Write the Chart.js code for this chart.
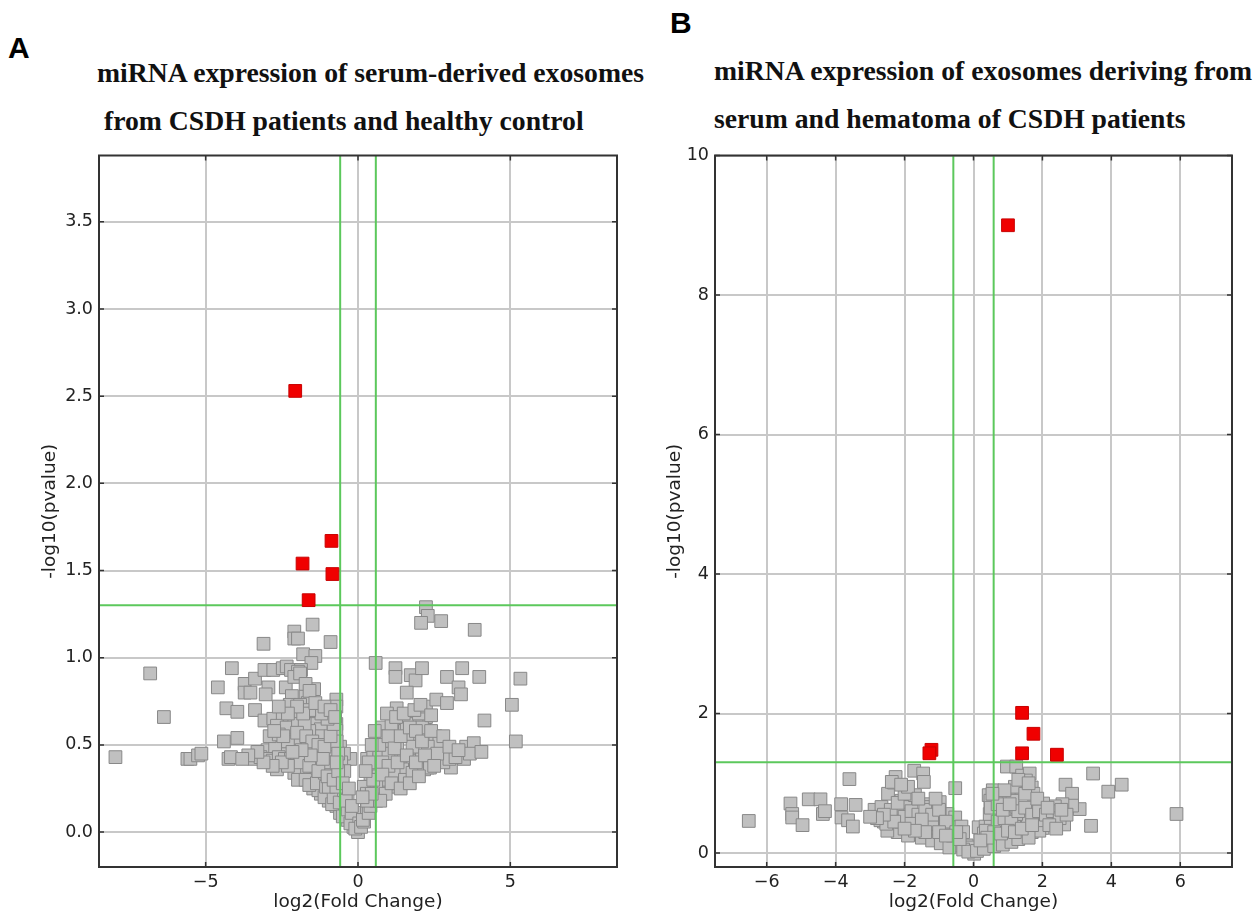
<!DOCTYPE html>
<html>
<head>
<meta charset="utf-8">
<script src="https://cdn.jsdelivr.net/npm/chart.js@4.4.1/dist/chart.umd.min.js"></script>
<style>
  body { margin: 0; width: 1260px; height: 915px; background: #fff; position: relative; overflow: hidden; }
  .lbl { position: absolute; font-family: "Liberation Sans", Arial, sans-serif; font-weight: bold; font-size: 30px; line-height: 30px; color: #000; }
  .ttl { position: absolute; font-family: "Liberation Serif", "Times New Roman", serif; font-weight: bold; font-size: 27.7px; line-height: 32px; color: #111; white-space: pre; }
  .box { position: absolute; top: 139px; width: 630px; height: 776px; }
</style>
</head>
<body>
<div class="lbl" style="left:8px; top:33px;">A</div>
<div class="lbl" style="left:670px; top:8px;">B</div>
<div class="ttl" style="left:97px; top:57px;">miRNA expression of serum-derived exosomes</div>
<div class="ttl" style="left:97px; top:105px;"> from CSDH patients and healthy control</div>
<div class="ttl" style="left:714px; top:55px;">miRNA expression of exosomes deriving from</div>
<div class="ttl" style="left:714px; top:103px;">serum and hematoma of CSDH patients</div>
<div class="box" style="left:0px;"><canvas id="chartA"></canvas></div>
<div class="box" style="left:620px;"><canvas id="chartB"></canvas></div>
<script>
// cut-offs: |log2FC| > log2(1.5), p < 0.05
var fcCut = [-0.585, 0.585];
var pCut = 1.301;

// panel A: serum exosomes, CSDH vs healthy control
var aRangeX = [-8.5, 8.5];
var aRangeY = [-0.2, 3.88];
var aRedX = [-2.06, -0.87, -1.82, -0.84, -1.62];
var aRedY = [2.53, 1.67, 1.54, 1.48, 1.33];
var aGrayX = [
  -7.96, -6.82, -6.37, -5.6, -5.5, -5.25, -5.14, -4.6, -4.32, -3.96, -4.4, -3.96, -4.25, -4.17, -4.14,
  -3.38, -3.1, -3.72, -3.72, -3.53, -3.38, -3.07, -2.78, -2.94, -3.03, -3.07, -2.78, -2.47, -2.34, -2.2,
  -2.09, -2.09, -1.97, -1.49, -1.8, -1.4, -1.53, -1.87, -1.97, -0.9, -1.44, -2.37, -2.17, -1.72, -1.65,
  -2.24, -1.9, -0.71, -0.71, -2.09, -1.9, -1.72, -1.59, -2.47, -2.09, -1.9, -1.47, -1.4, -2.66, -2.34,
  -1.97, -0.71, -0.71, -1.22, -1.15, -1.84, -2.09, -2.53, -2.47, -2.97, -2.72,
  -3.4, -3.2, -3.0, -2.8, -2.6, -2.4, -2.2, -2.0, -1.8, -1.6, -1.4, -1.2, -1.0, -0.8, -0.6, -0.4, -0.25,
  0.3, 0.5, 0.7, 0.9, 1.1, 1.3, 1.5, 1.7, 1.9, 2.1, 2.3, 2.5,
  -2.66, -1.78, -1.47, -1.22, -2.09, -1.97, -1.72,
  -1.47, -1.22, -0.96, -0.71, -0.59, -0.34, -0.15, 0.0, -1.3, -1.1, -0.85, -0.5, -0.25, -1.6, -1.35, -1.05, -0.8, -0.6,
  -0.59, -0.46, -0.59, -0.46, -0.34, -0.84, -1.09, -1.34, -0.96, -0.71, -1.22, -1.47, -0.96, -1.65, -0.84,
  -0.34, -0.21, 0.16, 0.29, 0.04, -0.09, 0.1, 0.2,
  0.16, 0.35, 0.41, 0.6, 0.79, 1.04, 1.29, 1.54, 1.79, 2.29, 0.5, 0.7, 0.95, 1.2, 1.45,
  0.54, 0.67, 0.91, 1.17, 1.54, 1.79, 2.17, 2.36, 0.6, 0.91, 0.73, 0.41, 0.29, 0.19, 0.29,
  0.79, 0.85, 1.29, 1.54, 1.79, 2.17, 2.23, 1.92, 2.04, 2.54, 2.67, 2.29, 1.79, 1.29, 0.91, 3.55, 3.8,
  1.1, 1.6, 2.0, 2.1, 0.7, 1.0,
  3.48, 3.67, 4.05, 3.05, 2.8, 3.0, 3.2,
  0.58, 1.23, 1.23, 1.73, 1.89, 2.1, 1.6, 1.27, 2.23, 2.57, 2.92, 2.92, 3.42, 3.3, 3.38, 3.98, 4.15,
  5.05, 5.33, 5.18, 2.23, 2.29, 2.07, 2.73, 3.83,
  -0.7, -0.55, -0.45, -1.0, -1.3, -1.6, -1.75,
  -2.9, -2.6, -2.3, -2.0, -1.7, -1.5, -1.3, -1.1, -0.9, -0.8, -1.0, -1.2, -1.6, -1.8, -2.0, -2.3, -2.6,
  -1.4, -1.1, -0.9, -0.75, -1.9, -1.6, -1.3, -1.0, -0.8, -2.3, -2.5, -2.8, -3.1, -0.65, -0.5, -0.4,
  -0.3, -0.2, -0.65, -0.7, -1.15, -1.55, -1.85, -2.15, -2.45, -2.75, -3.3, -3.6, -3.8,
  0.7, 1.0, 1.2, 1.4, 1.7, 1.9, 2.1, 2.4, 2.6, 0.8, 1.0, 1.3, 1.6, 1.9, 2.2, 2.5, 0.5, 0.8, 1.1, 1.4,
  1.7, 2.0, 0.35, 0.45, 0.55, 0.95, 1.25, 1.5, 1.85, 2.05, 2.4, 2.8, 3.0, 3.3, 0.3, 0.45, 0.25, 0.15
];
var aGrayY = [
  0.43, 0.91, 0.66, 0.42, 0.42, 0.44, 0.45, 0.83, 0.71, 0.69, 0.52, 0.54, 0.42, 0.43, 0.94,
  0.70, 1.08, 0.85, 0.80, 0.80, 0.88, 0.93, 0.93, 0.83, 0.79, 0.64, 0.65, 0.94, 0.95, 0.93,
  1.15, 1.11, 1.11, 1.19, 1.02, 1.01, 0.97, 0.93, 0.92, 1.09, 0.82, 0.83, 0.78, 0.78, 0.74,
  0.73, 0.73, 0.76, 0.72, 0.89, 0.91, 0.85, 0.81, 0.67, 0.66, 0.66, 0.66, 0.62, 0.61, 0.60,
  0.62, 0.62, 0.58, 0.59, 0.54, 0.54, 0.51, 0.49, 0.45, 0.47, 0.48,
  0.42, 0.43, 0.42, 0.41, 0.43, 0.42, 0.42, 0.43, 0.41, 0.42, 0.43, 0.42, 0.42, 0.41, 0.43, 0.42, 0.42,
  0.42, 0.43, 0.42, 0.41, 0.42, 0.43, 0.42, 0.42, 0.41, 0.42, 0.43, 0.42,
  0.36, 0.34, 0.30, 0.30, 0.34, 0.30, 0.30,
  0.25, 0.22, 0.18, 0.15, 0.11, 0.07, 0.03, 0.0, 0.24, 0.20, 0.16, 0.09, 0.05, 0.27, 0.28, 0.26, 0.20, 0.17,
  0.49, 0.45, 0.30, 0.24, 0.20, 0.37, 0.34, 0.37, 0.26, 0.26, 0.45, 0.47, 0.49, 0.49, 0.43,
  0.13, 0.11, 0.11, 0.13, 0.05, 0.02, 0.03, 0.06,
  0.07, 0.11, 0.15, 0.18, 0.22, 0.26, 0.30, 0.34, 0.37, 0.37, 0.20, 0.24, 0.28, 0.32, 0.36,
  0.36, 0.32, 0.30, 0.34, 0.30, 0.34, 0.36, 0.37, 0.26, 0.22, 0.18, 0.30, 0.26, 0.26, 0.22,
  0.60, 0.55, 0.60, 0.58, 0.55, 0.62, 0.66, 0.65, 0.56, 0.55, 0.51, 0.49, 0.49, 0.51, 0.49, 0.49, 0.51,
  0.62, 0.62, 0.68, 0.60, 0.45, 0.45,
  0.42, 0.45, 0.46, 0.37, 0.40, 0.42, 0.43,
  0.97, 0.94, 0.89, 0.90, 0.87, 0.94, 0.80, 0.71, 0.72, 0.76, 0.74, 0.89, 0.94, 0.83, 0.79, 0.89, 0.64,
  0.73, 0.88, 0.52, 1.29, 1.24, 1.20, 1.21, 1.16,
  0.52, 0.40, 0.35, 0.40, 0.55, 0.58, 0.62,
  0.55, 0.56, 0.52, 0.57, 0.55, 0.52, 0.50, 0.49, 0.55, 0.62, 0.65, 0.68, 0.70, 0.68, 0.72, 0.68, 0.72,
  0.74, 0.72, 0.70, 0.66, 0.40, 0.38, 0.35, 0.32, 0.30, 0.38, 0.40, 0.38, 0.40, 0.35, 0.28, 0.18,
  0.25, 0.15, 0.45, 0.40, 0.42, 0.44, 0.47, 0.46, 0.55, 0.58, 0.46, 0.44, 0.42,
  0.50, 0.55, 0.48, 0.55, 0.60, 0.58, 0.52, 0.58, 0.45, 0.40, 0.38, 0.40, 0.44, 0.40, 0.44, 0.38, 0.30, 0.33, 0.28, 0.25,
  0.28, 0.32, 0.40, 0.50, 0.58, 0.68, 0.66, 0.68, 0.70, 0.73, 0.67, 0.55, 0.49, 0.47, 0.18, 0.22, 0.35, 0.20
];

// panel B: serum vs hematoma exosomes of CSDH patients
var bRangeX = [-7.5, 7.5];
var bRangeY = [-0.2, 10];
var bRedX = [1.0, 1.41, 1.74, 1.41, 2.42, -1.22, -1.28];
var bRedY = [9.0, 2.01, 1.71, 1.43, 1.41, 1.48, 1.43];
var bGrayX = [
  -6.52, -5.31, -5.26, -5.26, -4.96, -4.78, -4.44, -4.37, -4.31, -3.84, -3.83, -3.6, -3.42, -3.64, -3.5,
  -2.87, -2.67, -2.48, -2.31, -2.26, -2.37, -2.48, -2.42, -2.09, -1.98, -2.2, -1.72, -1.46, -1.44, -1.7,
  -1.31, -1.26, -0.98, -0.53, -0.76, -0.53, -0.64,
  -2.3, -2.1, -1.9, -1.7, -1.5, -1.3, -1.1, -0.9, -0.7, -0.5, -0.35,
  0.15, 0.35, 0.55, 0.75, 0.95, 1.15, 1.35, 1.55, 1.75, 2.0,
  -2.2, -1.76, -1.31, -1.09, -0.87, -0.64, -0.42, -0.2, -0.09, 0.02, 0.24, 0.47, 0.69, 0.91, 1.13, 1.36, 1.69, 1.91,
  -1.9, -1.5, -1.2, -0.95, -0.7, -0.3, -0.15, 0.1, 0.3, 0.6, 0.85, 1.1, 1.3, 1.6,
  -2.5, -2.6, -2.1, -1.6, -1.0, -0.3, 0.3, 0.5, 1.8,
  0.97, 1.24, 1.41, 1.63, 1.52, 1.41, 1.69, 1.74, 0.8, 0.56, 0.44, 0.49,
  2.67, 2.86, 3.47, 3.91, 4.3, 5.89, 3.41,
  3.08, 2.86, 2.58, 2.36, 2.02, 2.63,
  2.3, 1.91, 1.58, 1.24, 0.97, 0.69, 1.02, 1.13,
  0.47, 0.36, -1.42, -1.2, -0.98, -2.7, -2.53,
  -2.4, -2.2, -2.0, -1.8, -1.6, -1.4, -1.2, -1.0, -0.8, -1.8, -1.5, -2.3, -2.6, -2.8, -3.0, -2.0, -1.9,
  -2.1, -1.6, -1.1, -0.6, -0.4, -0.5, -1.4, -1.7, -2.0, -1.0, -0.8,
  0.5, 0.7, 0.9, 1.1, 1.3, 1.5, 1.7, 1.9, 2.1, 2.3, 2.5, 2.7, 1.2, 1.5, 1.3, 1.6, 0.9, 0.7, 0.6, 0.8,
  1.0, 1.2, 1.4, 1.7, 2.2, 2.4, 0.4, 0.2, 0.55, 0.85, 1.05, 1.85, 2.15, 2.55
];
var bGrayY = [
  0.46, 0.71, 0.56, 0.51, 0.40, 0.77, 0.77, 0.56, 0.60, 0.70, 0.51, 1.06, 0.69, 0.47, 0.38,
  0.62, 0.66, 0.85, 1.01, 1.09, 1.02, 0.47, 0.37, 0.75, 0.66, 0.56, 1.18, 1.14, 1.02, 0.83,
  0.70, 0.66, 0.73, 0.93, 0.56, 0.51, 0.37,
  0.37, 0.38, 0.37, 0.36, 0.37, 0.38, 0.37, 0.37, 0.36, 0.37, 0.38,
  0.37, 0.38, 0.37, 0.37, 0.36, 0.37, 0.38, 0.37, 0.37, 0.36,
  0.30, 0.27, 0.23, 0.23, 0.18, 0.13, 0.11, 0.11, 0.08, -0.01, 0.11, 0.13, 0.15, 0.18, 0.23, 0.27, 0.30, 0.32,
  0.25, 0.22, 0.18, 0.14, 0.08, 0.05, 0.02, 0.03, 0.06, 0.10, 0.12, 0.16, 0.20, 0.22,
  0.32, 0.45, 0.45, 0.45, 0.48, 0.30, 0.28, 0.45, 0.50,
  1.24, 1.24, 1.11, 1.14, 1.04, 0.90, 0.94, 0.85, 0.81, 0.90, 0.83, 0.75,
  0.98, 0.85, 1.14, 0.88, 0.98, 0.56, 0.39,
  0.63, 0.68, 0.70, 0.67, 0.71, 0.41,
  0.47, 0.47, 0.51, 0.56, 0.66, 0.56, 0.80, 0.75,
  0.56, 0.32, 0.47, 0.42, 0.56, 0.47, 0.42,
  0.62, 0.72, 0.52, 0.60, 0.55, 0.62, 0.55, 0.62, 0.45, 0.42, 0.48, 0.45, 0.55, 0.50, 0.52, 0.85, 0.95,
  0.98, 0.78, 0.78, 0.25, 0.20, 0.30, 0.30, 0.32, 0.35, 0.30, 0.25,
  0.65, 0.45, 0.50, 0.45, 0.60, 0.65, 0.55, 0.60, 0.55, 0.60, 0.50, 0.55, 0.95, 0.85, 1.05, 1.00, 0.90, 0.70, 0.30, 0.28,
  0.32, 0.30, 0.35, 0.40, 0.40, 0.35, 0.22, 0.18, 0.85, 0.62, 0.70, 0.78, 0.65, 0.62
];

function pts(xs, ys) {
  return xs.map(function (x, i) { return { x: x, y: ys[i] }; });
}

function minus(v) {
  return String(v).replace('-', '\u2212');
}

// frame round the plot and short inward ticks on all four sides
var frame = {
  id: 'frame',
  afterDraw: function (chart) {
    var ctx = chart.ctx, a = chart.chartArea, sx = chart.scales.x, sy = chart.scales.y;
    ctx.save();
    ctx.strokeStyle = '#333';
    ctx.lineWidth = 1.5;
    ctx.beginPath();
    sx.ticks.forEach(function (t) {
      var p = sx.getPixelForValue(t.value);
      ctx.moveTo(p, a.bottom); ctx.lineTo(p, a.bottom - 5);
      ctx.moveTo(p, a.top); ctx.lineTo(p, a.top + 5);
    });
    sy.ticks.forEach(function (t) {
      var p = sy.getPixelForValue(t.value);
      ctx.moveTo(a.left, p); ctx.lineTo(a.left + 5, p);
      ctx.moveTo(a.right, p); ctx.lineTo(a.right - 5, p);
    });
    ctx.stroke();
    ctx.lineWidth = 2;
    ctx.strokeRect(a.left, a.top, a.right - a.left, a.bottom - a.top);
    ctx.restore();
  }
};

function cutLines(rx, ry) {
  var green = { showLine: true, pointRadius: 0, borderColor: '#5cc85c', borderWidth: 2, fill: false, order: 1 };
  return [
    Object.assign({ data: [{ x: fcCut[0], y: ry[0] }, { x: fcCut[0], y: ry[1] }] }, green),
    Object.assign({ data: [{ x: fcCut[1], y: ry[0] }, { x: fcCut[1], y: ry[1] }] }, green),
    Object.assign({ data: [{ x: rx[0], y: pCut }, { x: rx[1], y: pCut }] }, green)
  ];
}

function makeChart(id, grayX, grayY, redX, redY, rx, ry, xStep, yStep, yFmt, yWidth, titlePad, padRight) {
  var tickFont = { family: 'DejaVu Sans', size: 17.5 };
  var titleFont = { family: 'DejaVu Sans', size: 18.5 };
  return new Chart(document.getElementById(id), {
    type: 'scatter',
    data: {
      datasets: [
        {
          data: pts(redX, redY),
          pointStyle: 'rect',
          pointRadius: 9,
          backgroundColor: '#f00000',
          borderColor: '#c80000',
          borderWidth: 1,
          order: 0
        }
      ].concat(cutLines(rx, ry)).concat([
        {
          data: pts(grayX, grayY),
          pointStyle: 'rect',
          pointRadius: 9,
          backgroundColor: '#c0c0c0',
          borderColor: '#888888',
          borderWidth: 1,
          order: 2
        }
      ])
    },
    options: {
      responsive: true,
      maintainAspectRatio: false,
      animation: false,
      events: [],
      layout: { padding: { top: 0, right: padRight, bottom: 0, left: 0 } },
      plugins: { legend: { display: false }, tooltip: { enabled: false } },
      scales: {
        x: {
          type: 'linear',
          min: rx[0],
          max: rx[1],
          ticks: { stepSize: xStep, includeBounds: false, font: tickFont, color: '#222', padding: 5, callback: function (v) { return minus(v); } },
          grid: { color: '#c8c8c8', lineWidth: 2, drawTicks: false },
          border: { display: false },
          title: { display: true, text: 'log2(Fold Change)', font: titleFont, color: '#222', padding: { top: 0, bottom: 2 } },
          afterFit: function (s) { s.height = 48; }
        },
        y: {
          type: 'linear',
          min: ry[0],
          max: ry[1],
          ticks: { stepSize: yStep, includeBounds: false, font: tickFont, color: '#222', padding: 6, callback: yFmt },
          grid: { color: '#c8c8c8', lineWidth: 2, drawTicks: false },
          border: { display: false },
          title: { display: true, text: '-log10(pvalue)', font: titleFont, color: '#222', padding: { top: titlePad, bottom: 0 } },
          afterFit: function (s) { s.width = yWidth; }
        }
      }
    },
    plugins: [frame]
  });
}

var chartA = makeChart('chartA', aGrayX, aGrayY, aRedX, aRedY, aRangeX, aRangeY, 5, 0.5,
  function (v) { return v.toFixed(1); }, 99, 39, 13);
var chartB = makeChart('chartB', bGrayX, bGrayY, bRedX, bRedY, bRangeX, bRangeY, 2, 2,
  function (v) { return String(v); }, 95, 44, 18);
</script>
</body>
</html>
